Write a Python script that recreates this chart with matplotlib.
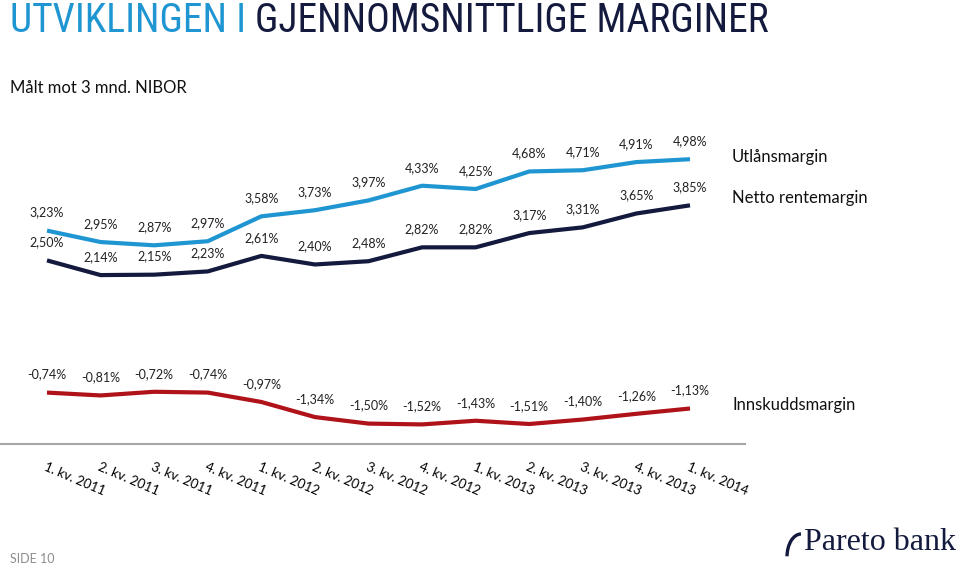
import matplotlib
matplotlib.use("Agg")
import matplotlib.pyplot as plt
from matplotlib import font_manager
from matplotlib.patches import Arc

quarters = ["1. kv. 2011", "2. kv. 2011", "3. kv. 2011", "4. kv. 2011",
            "1. kv. 2012", "2. kv. 2012", "3. kv. 2012", "4. kv. 2012",
            "1. kv. 2013", "2. kv. 2013", "3. kv. 2013", "4. kv. 2013",
            "1. kv. 2014"]
utlan = [3.23, 2.95, 2.87, 2.97, 3.58, 3.73, 3.97, 4.33, 4.25, 4.68, 4.71, 4.91, 4.98]
netto = [2.50, 2.14, 2.15, 2.23, 2.61, 2.40, 2.48, 2.82, 2.82, 3.17, 3.31, 3.65, 3.85]
innskudd = [-0.74, -0.81, -0.72, -0.74, -0.97, -1.34, -1.50, -1.52, -1.43, -1.51, -1.40, -1.26, -1.13]
series_names = ["Utlånsmargin", "Netto rentemargin", "Innskuddsmargin"]

LIGHT = "#1f96d2"
NAVY = "#131a3d"
RED = "#b0121a"

names = sorted({f.name for f in font_manager.fontManager.ttflist})
title_font = "Liberation Sans"
for cand in ["Liberation Sans Narrow", "Arial Narrow", "DejaVu Sans Condensed", "Roboto Condensed",
             "Open Sans Condensed", "Noto Sans Condensed"]:
    if cand in names:
        title_font = cand
        break
narrow = title_font != "Liberation Sans"
body_font = "Lato"

fig = plt.figure(figsize=(9.59, 5.67), dpi=100)
W, H = 959, 567
ax = fig.add_axes([0, 1 - 444 / H, 745 / W, (444 - 110) / H])

x = list(range(len(quarters)))
for vals, col in [(utlan, LIGHT), (netto, NAVY), (innskudd, RED)]:
    ax.plot(x, vals, color=col, lw=3.0, solid_capstyle="butt", solid_joinstyle="round")
    for xi, v in zip(x, vals):
        ax.annotate(f"{v:.2f}%".replace(".", ","), (xi, v), xytext=(0, 13),
                    textcoords="offset points", ha="center", va="center",
                    fontsize=9, family=body_font, color="#222222")

ax.set_xlim(-47 / 53.58, 12 + 55 / 53.58)
ax.set_ylim(-2.0, -2.0 + (444 - 110) / 40.8)
for s in ["top", "right", "left"]:
    ax.spines[s].set_visible(False)
ax.spines["bottom"].set_color("#a6a6a6")
ax.spines["bottom"].set_linewidth(1.5)
ax.set_yticks([])
ax.set_xticks(x)
ax.set_xticklabels(quarters, rotation=-23, ha="left", va="top", rotation_mode="anchor",
                   fontsize=9.5, family=body_font)
ax.tick_params(axis="x", length=0, pad=12)

# series names on the right
fig.text(732 / W, 1 - 157 / H, series_names[0], fontsize=12, family=body_font, va="center", color="#111111")
fig.text(732 / W, 1 - 198 / H, series_names[1], fontsize=12, family=body_font, va="center", color="#111111")
fig.text(732 / W, 1 - 405 / H, series_names[2], fontsize=12, family=body_font, va="center", color="#111111")

# title
tsize = 28.5 if narrow else 24.5
t1 = fig.text(10 / W, 1 - 21 / H, "UTVIKLINGEN I ", fontsize=tsize, family=title_font,
              color=LIGHT, va="center", ha="left")
fig.canvas.draw()
bb = t1.get_window_extent()
fig.text(bb.x1 / W, 1 - 21 / H, "GJENNOMSNITTLIGE MARGINER", fontsize=tsize, family=title_font,
         color=NAVY, va="center", ha="left")

fig.text(10 / W, 1 - 88 / H, "Målt mot 3 mnd. NIBOR", fontsize=12, family=body_font,
         va="center", color="#111111")
fig.text(10 / W, 1 - 559 / H, "SIDE 10", fontsize=9, family=body_font, va="center", color="#8c8c8c")

# logo
fig.text(956 / W, 1 - 542 / H, "Pareto bank", fontsize=23, family="Liberation Serif",
         color=NAVY, ha="right", va="center")
arc = Arc((801 / W, 1 - 557 / H), 28 / W, 46 / H, theta1=90, theta2=175, color=NAVY, lw=2.4,
          transform=fig.transFigure)
fig.add_artist(arc)

fig.savefig("out.png", dpi=100)
